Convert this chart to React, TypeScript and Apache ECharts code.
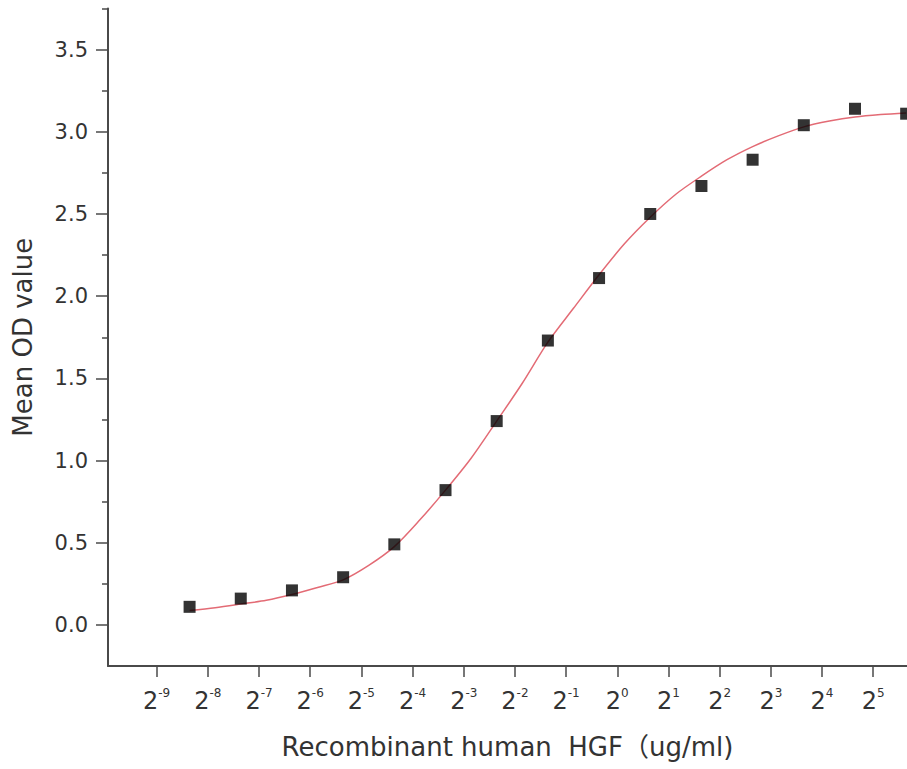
import React, { useEffect, useRef } from 'react';
import * as echarts from 'echarts';

// HGF concentration (ug/ml) of each well, two-fold dilutions from 50 ug/ml
const concentrations = [
  0.0030517578125, 0.006103515625, 0.01220703125, 0.0244140625, 0.048828125,
  0.09765625, 0.1953125, 0.390625, 0.78125, 1.5625, 3.125, 6.25, 12.5, 25, 50,
];
// measured mean OD values (black squares)
const meanOD = [0.11, 0.16, 0.21, 0.29, 0.49, 0.82, 1.24, 1.73, 2.11, 2.5, 2.67, 2.83, 3.04, 3.14, 3.11];

// fitted curve at the wells and half-way between them
const fitConcentrations = [
  0.0030517578125, 0.00431583, 0.006103515625, 0.00863167, 0.01220703125, 0.01726334,
  0.0244140625, 0.0345267, 0.048828125, 0.0690534, 0.09765625, 0.13810679,
  0.1953125, 0.27621359, 0.390625, 0.55242717, 0.78125, 1.10485435, 1.5625,
  2.20970869, 3.125, 4.41941738, 6.25, 8.83883476, 12.5, 17.67766953, 25,
  35.35533906, 50,
];
const fitOD = [
  0.087, 0.105, 0.127, 0.15, 0.185, 0.228, 0.274, 0.362, 0.476, 0.639, 0.82, 1.014,
  1.24, 1.47, 1.72, 1.926, 2.13, 2.32, 2.48, 2.62, 2.73, 2.83, 2.91, 2.975, 3.03,
  3.065, 3.09, 3.105, 3.115,
];

// tick labels
const xTickExponents = [-9, -8, -7, -6, -5, -4, -3, -2, -1, 0, 1, 2, 3, 4, 5];
const yTickValues = [0, 0.5, 1, 1.5, 2, 2.5, 3, 3.5];
const yMinorTickValues = [0.25, 0.75, 1.25, 1.75, 2.25, 2.75, 3.25, 3.75];

const FONT = '"DejaVu Sans", "Noto Sans CJK SC", sans-serif';
const AXIS_COLOR = '#4a4a4a';
const TEXT_COLOR = '#333333';

export default function App() {
  const ref = useRef<HTMLDivElement>(null);

  useEffect(() => {
    if (!ref.current) return;
    const chart = echarts.init(ref.current, undefined, { renderer: 'svg' });
    const xTickValues = xTickExponents.map((e) => Math.pow(2, e));

    chart.setOption({
      animation: false,
      backgroundColor: '#ffffff',
      grid: { left: 108, top: 8.5, bottom: 103, right: 0, containLabel: false },
      xAxis: {
        type: 'log',
        logBase: 2,
        min: Math.pow(2, -9.95),
        max: Math.pow(2, 5.66),
        name: 'Recombinant human  HGF（ug/ml)',
        nameLocation: 'middle',
        nameGap: 68,
        nameTextStyle: { fontFamily: FONT, fontSize: 26, color: TEXT_COLOR },
        axisLine: { show: true, onZero: false, lineStyle: { color: AXIS_COLOR, width: 2 } },
        axisTick: {
          show: true,
          length: 11,
          customValues: xTickValues,
          lineStyle: { color: AXIS_COLOR, width: 1.5 },
        },
        minorTick: { show: false },
        splitLine: { show: false },
        axisLabel: {
          customValues: xTickValues,
          margin: 21,
          formatter: (v: number) => `{b|2}{s|${Math.round(Math.log2(v))}}`,
          rich: {
            b: { fontFamily: FONT, fontSize: 24, color: TEXT_COLOR, lineHeight: 26, verticalAlign: 'bottom' },
            s: { fontFamily: FONT, fontSize: 12, color: TEXT_COLOR, lineHeight: 14, verticalAlign: 'top' },
          },
        },
      },
      yAxis: [
        {
          type: 'value',
          min: -0.25,
          max: 3.75,
          name: 'Mean OD value',
          nameLocation: 'middle',
          nameGap: 72,
          nameTextStyle: { fontFamily: FONT, fontSize: 26, color: TEXT_COLOR },
          axisLine: { show: true, onZero: false, lineStyle: { color: AXIS_COLOR, width: 2 } },
          axisTick: {
            show: true,
            length: 12,
            customValues: yTickValues,
            lineStyle: { color: AXIS_COLOR, width: 1.5 },
          },
          splitLine: { show: false },
          axisLabel: {
            customValues: yTickValues,
            margin: 20,
            fontFamily: FONT,
            fontSize: 21,
            color: TEXT_COLOR,
            formatter: (v: number) => v.toFixed(1),
          },
        },
        {
          type: 'value',
          min: -0.25,
          max: 3.75,
          position: 'left',
          axisLine: { show: false, onZero: false },
          axisTick: {
            show: true,
            length: 6,
            customValues: yMinorTickValues,
            lineStyle: { color: AXIS_COLOR, width: 1.5 },
          },
          splitLine: { show: false },
          axisLabel: { show: false },
        },
      ],
      series: [
        {
          name: 'fit',
          type: 'line',
          data: fitConcentrations.map((c, i) => [c, fitOD[i]]),
          smooth: 0.3,
          showSymbol: false,
          symbol: 'none',
          lineStyle: { color: '#e36b75', width: 1.5 },
          z: 2,
        },
        {
          name: 'Mean OD',
          type: 'scatter',
          data: concentrations.map((c, i) => [c, meanOD[i]]),
          symbol: 'rect',
          symbolSize: 12,
          itemStyle: { color: '#000000' },
          z: 3,
        },
      ],
    });

    return () => chart.dispose();
  }, []);

  return (
    <div
      ref={ref}
      style={{ position: 'absolute', left: 0, top: 0, width: 907, height: 769 }}
    />
  );
}
